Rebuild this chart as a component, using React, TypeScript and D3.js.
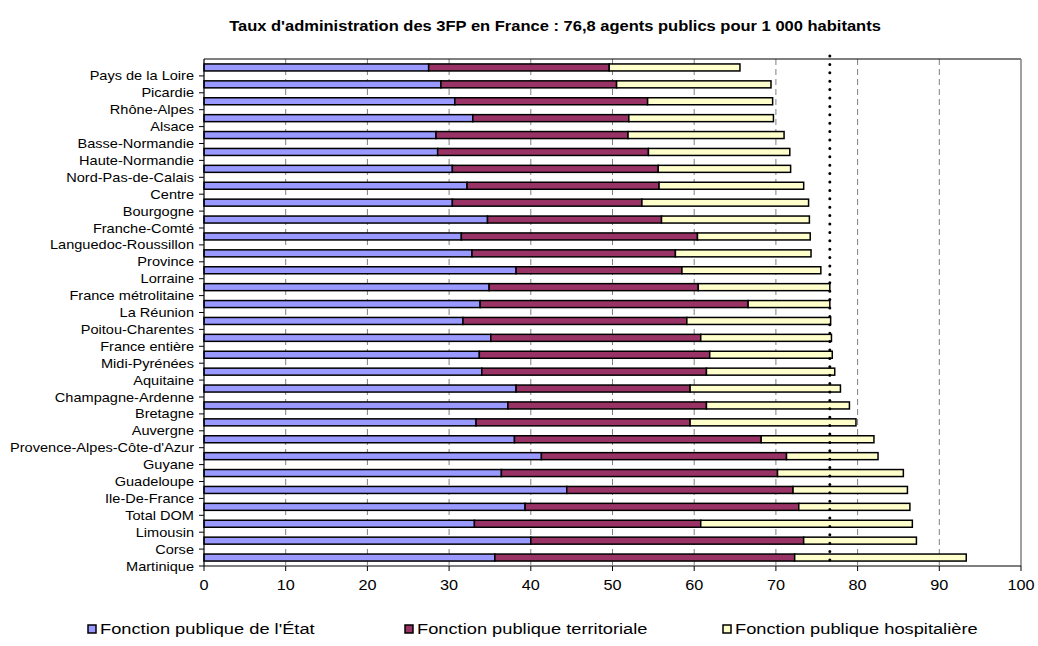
import React from "react";
import * as d3 from "d3";

const categories = [
  "Pays de la Loire", "Picardie", "Rhône-Alpes", "Alsace", "Basse-Normandie",
  "Haute-Normandie", "Nord-Pas-de-Calais", "Centre", "Bourgogne", "Franche-Comté",
  "Languedoc-Roussillon", "Province", "Lorraine", "France métrolitaine", "La Réunion",
  "Poitou-Charentes", "France entière", "Midi-Pyrénées", "Aquitaine", "Champagne-Ardenne",
  "Bretagne", "Auvergne", "Provence-Alpes-Côte-d'Azur", "Guyane", "Guadeloupe",
  "Ile-De-France", "Total DOM", "Limousin", "Corse", "Martinique",
];

const fpe = [
  27.5, 29.0, 30.7, 32.9, 28.4, 28.6, 30.4, 32.2, 30.4, 34.7,
  31.5, 32.8, 38.2, 34.9, 33.8, 31.7, 35.1, 33.7, 34.0, 38.2,
  37.2, 33.3, 38.0, 41.3, 36.4, 44.4, 39.3, 33.1, 40.0, 35.6,
];
const fpt = [
  22.1, 21.5, 23.6, 19.1, 23.5, 25.8, 25.2, 23.5, 23.2, 21.3,
  28.9, 24.9, 20.3, 25.6, 32.8, 27.4, 25.7, 28.2, 27.5, 21.3,
  24.3, 26.2, 30.2, 30.0, 33.8, 27.7, 33.5, 27.7, 33.4, 36.7,
];
const fph = [
  16.0, 18.9, 15.3, 17.7, 19.1, 17.3, 16.2, 17.7, 20.4, 18.1,
  13.8, 16.6, 17.0, 16.1, 10.0, 17.6, 16.0, 15.0, 15.7, 18.4,
  17.5, 20.3, 13.8, 11.2, 15.4, 14.0, 13.6, 25.9, 13.8, 21.0,
];

const seriesNames = [
  "Fonction publique de l'État",
  "Fonction publique territoriale",
  "Fonction publique hospitalière",
];
const seriesColors = ["#9999FF", "#993366", "#FFFFCC"];
const xTicks = [0, 10, 20, 30, 40, 50, 60, 70, 80, 90, 100];
const referenceValue = 76.6;
const title = "Taux d'administration des 3FP en France : 76,8 agents publics pour 1 000 habitants";

const W = 1038;
const H = 646;
const FONT = "'Liberation Sans', Arial, sans-serif";

export default function App() {
  const left = 204, right = 1021, top = 59, bottom = 566;
  const x = d3.scaleLinear().domain([0, 100]).range([left, right]);
  const y = d3.scaleBand<number>().domain(d3.range(categories.length)).range([top, bottom]).padding(0);
  const bw = y.bandwidth();
  const barH = 7;

  const rows = categories.map((c, i) => ({ key: i, fpe: fpe[i], fpt: fpt[i], fph: fph[i] }));
  const stack = d3.stack<any>().keys(["fpe", "fpt", "fph"])(rows);

  const legendX = [88, 405, 723];

  return (
    <svg width={W} height={H} style={{ position: "absolute", left: 0, top: 0, background: "#fff" }} fontFamily={FONT}>
      <text transform={`translate(555,31) scale(1.18,1)`} textAnchor="middle" fontSize={14} fontWeight="bold" fill="#000">{title}</text>

      {/* gridlines */}
      {xTicks.filter((t) => t > 0 && t < 100).map((t) => (
        <line key={"g" + t} x1={x(t)} x2={x(t)} y1={top} y2={bottom} stroke="#808080" strokeWidth={1} strokeDasharray="6,4" />
      ))}

      {/* plot border */}
      <line x1={left} x2={right} y1={top} y2={top} stroke="#000" strokeWidth={1.2} />
      <line x1={right} x2={right} y1={top} y2={bottom} stroke="#808080" strokeWidth={1.5} />

      {/* bars */}
      {stack.map((s, si) =>
        s.map((d, i) => (
          <rect
            key={si + "-" + i}
            x={x(d[0])}
            y={(y(i) as number) + bw / 2 - barH / 2}
            width={x(d[1]) - x(d[0])}
            height={barH}
            fill={seriesColors[si]}
            stroke="#000"
            strokeWidth={1.5}
          />
        ))
      )}

      {/* reference dotted line */}
      <line x1={x(referenceValue)} x2={x(referenceValue)} y1={56} y2={bottom} stroke="#000" strokeWidth={3} strokeLinecap="round" strokeDasharray="0,8.4" />

      {/* y axis */}
      <line x1={left} x2={left} y1={top} y2={bottom} stroke="#000" strokeWidth={1.2} />
      {categories.map((c, i) => {
        const yy = (y(i) as number) + bw;
        return (
          <g key={"yl" + i}>
            <line x1={left - 5} x2={left} y1={yy} y2={yy} stroke="#000" strokeWidth={1} />
            <text transform={`translate(${left - 10},${yy + 4.5}) scale(1.12,1)`} textAnchor="end" fontSize={13} fill="#000">{c}</text>
          </g>
        );
      })}

      {/* x axis */}
      <line x1={left} x2={right} y1={bottom} y2={bottom} stroke="#000" strokeWidth={1.2} />
      {xTicks.map((t) => (
        <g key={"xt" + t}>
          <line x1={x(t)} x2={x(t)} y1={bottom} y2={bottom + 5} stroke="#000" strokeWidth={1} />
          <text transform={`translate(${x(t)},590) scale(1.16,1)`} textAnchor="middle" fontSize={14} fill="#000">{t}</text>
        </g>
      ))}

      {/* legend */}
      {seriesNames.map((n, i) => (
        <g key={"lg" + i}>
          <rect x={legendX[i]} y={625} width={8} height={8} fill={seriesColors[i]} stroke="#000" strokeWidth={1.5} />
          <text transform={`translate(${legendX[i] + 12},634) scale(1.26,1)`} fontSize={14.5} fill="#000">{n}</text>
        </g>
      ))}
    </svg>
  );
}
